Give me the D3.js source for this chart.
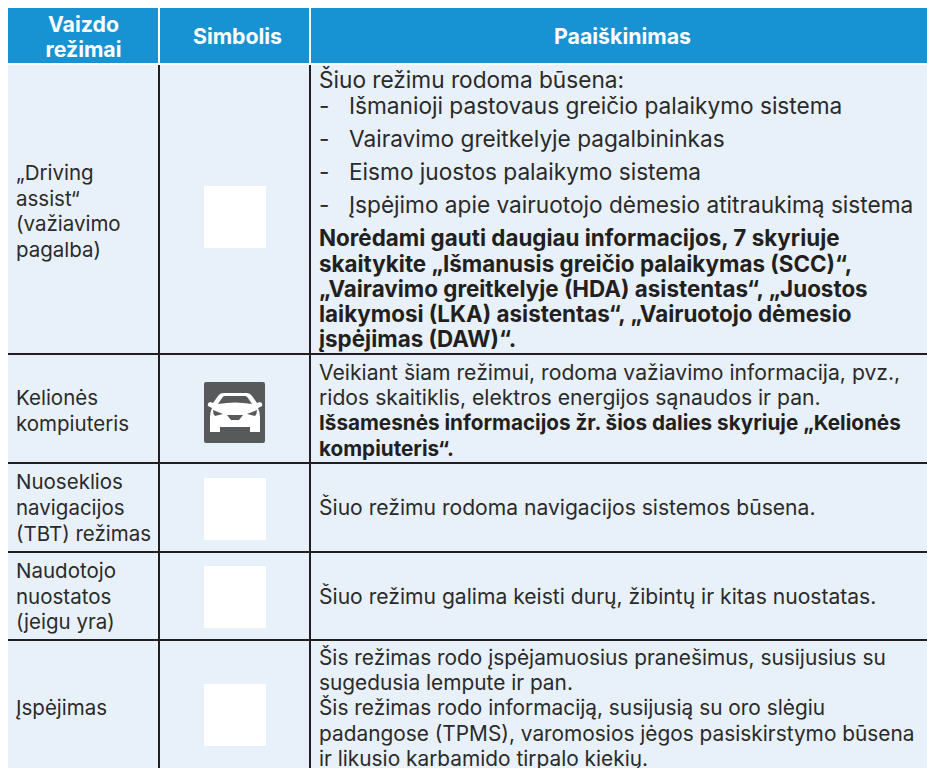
<!DOCTYPE html>
<html>
<head>
<meta charset="utf-8">
<script src="https://cdn.jsdelivr.net/npm/d3@7"></script>
<style>
  body { margin: 0; background: #fff; }
  text { font-family: "Inter", sans-serif; font-size: 20.5px; fill: #2b2a2b; }
  .head { font-size: 21.3px; font-weight: 700; fill: #fff; text-anchor: middle; }
  .bold { font-weight: 700; fill: #231f20; }
</style>
</head>
<body>
<svg id="chart" width="927" height="768"></svg>
<script>
var headers = [["Vaizdo", "režimai"], ["Simbolis"], ["Paaiškinimas"]];

var modes = [
  ["„Driving", "assist“", "(važiavimo", "pagalba)"],
  ["Kelionės", "kompiuteris"],
  ["Nuoseklios", "navigacijos", "(TBT) režimas"],
  ["Naudotojo", "nuostatos", "(jeigu yra)"],
  ["Įspėjimas"]
];

// t: n = plain, d = dash item, b = bold
var descriptions = [
  [["n", "Šiuo režimu rodoma būsena:"],
   ["d", "Išmanioji pastovaus greičio palaikymo sistema"],
   ["d", "Vairavimo greitkelyje pagalbininkas"],
   ["d", "Eismo juostos palaikymo sistema"],
   ["d", "Įspėjimo apie vairuotojo dėmesio atitraukimą sistema"],
   ["b", "Norėdami gauti daugiau informacijos, 7 skyriuje"],
   ["b", "skaitykite „Išmanusis greičio palaikymas (SCC)“,"],
   ["b", "„Vairavimo greitkelyje (HDA) asistentas“, „Juostos"],
   ["b", "laikymosi (LKA) asistentas“, „Vairuotojo dėmesio"],
   ["b", "įspėjimas (DAW)“."]],
  [["n", "Veikiant šiam režimui, rodoma važiavimo informacija, pvz.,"],
   ["n", "ridos skaitiklis, elektros energijos sąnaudos ir pan."],
   ["b", "Išsamesnės informacijos žr. šios dalies skyriuje „Kelionės"],
   ["b", "kompiuteris“."]],
  [["n", "Šiuo režimu rodoma navigacijos sistemos būsena."]],
  [["n", "Šiuo režimu galima keisti durų, žibintų ir kitas nuostatas."]],
  [["n", "Šis režimas rodo įspėjamuosius pranešimus, susijusius su"],
   ["n", "sugedusia lempute ir pan."],
   ["n", "Šis režimas rodo informaciją, susijusią su oro slėgiu"],
   ["n", "padangose (TPMS), varomosios jėgos pasiskirstymo būsena"],
   ["n", "ir likusio karbamido tirpalo kiekių."]]
];

var symbols = ["blank", "car", "blank", "blank", "blank"];

// page layout
var colEdges = [8, 159, 310, 927];
var headTop = 8, headBottom = 63, bodyTop = 65;
var rowEdges = [65, 354, 463, 552, 640, 768];
var headNudge = [0, 3, 4];
var modeBase = [[180, 206, 231, 257], [405, 431], [489, 515, 541], [578, 604, 629], [715]];
var descBase = [
  [88, 114, 147, 180, 213, 246, 272, 297, 322, 347],
  [380, 405, 430, 456],
  [515],
  [604],
  [665, 690, 715, 741, 766]
];
// the source page sets some rows a little larger than others
var descSize = [22.65, 21.15, 21.1, 21.1, 20.85];
var descBoldSize = [22.4, 20.7];
var symbolTop = [186, 382, 478, 566, 684];
var symbolSize = 62;

var svg = d3.select("#chart");

// column scale: index -> left edge
var x = d3.scaleOrdinal().domain([0, 1, 2, 3]).range(colEdges);
var cols = [0, 1, 2];

svg.append("rect").attr("x", 8).attr("y", bodyTop)
    .attr("width", 919).attr("height", 768 - bodyTop).attr("fill", "#e8f1f9");

svg.selectAll("rect.headcell").data(cols).enter().append("rect")
    .attr("class", "headcell")
    .attr("x", function(d) { return x(d) + (d ? 1 : 0); })
    .attr("y", headTop)
    .attr("width", function(d) { return x(d + 1) - x(d) - (d == 1 ? 2 : 1); })
    .attr("height", headBottom - headTop)
    .attr("fill", "#1793d4");

svg.selectAll("text.head").data(headers).enter().append("text")
    .attr("class", "head")
    .attr("x", function(d, i) { return (x(i) + x(i + 1)) / 2 + headNudge[i]; })
    .each(function(d) {
      var t = d3.select(this);
      var first = d.length > 1 ? 32 : 44;
      d.forEach(function(line, k) {
        t.append("tspan")
          .attr("x", t.attr("x"))
          .attr("y", first + k * 25)
          .text(line);
      });
    });

// row + column rules
svg.selectAll("line.v").data([1, 2]).enter().append("line")
    .attr("x1", function(d) { return x(d); }).attr("x2", function(d) { return x(d); })
    .attr("y1", bodyTop).attr("y2", 768)
    .attr("stroke", "#231f20").attr("stroke-width", 2);

svg.selectAll("line.h").data(rowEdges.slice(1, 5)).enter().append("line")
    .attr("x1", 8).attr("x2", 927)
    .attr("y1", function(d) { return d; }).attr("y2", function(d) { return d; })
    .attr("stroke", "#231f20").attr("stroke-width", 2);

// first column
modes.forEach(function(lines, r) {
  svg.append("g").selectAll("text").data(lines).enter().append("text")
      .attr("x", 16)
      .attr("y", function(d, i) { return modeBase[r][i]; })
      .text(function(d) { return d; });
});

// symbols
symbols.forEach(function(s, r) {
  var g = svg.append("g").attr("transform", "translate(204," + symbolTop[r] + ")");
  g.append("rect").attr("width", symbolSize - (s == "car" ? 1 : 0)).attr("height", symbolSize - (s == "car" ? 1 : 0))
      .attr("rx", s == "car" ? 2 : 0)
      .attr("fill", s == "car" ? "#58595b" : "#fff");
  if (s == "car") {
    g.append("path").attr("fill", "#fff").attr("fill-rule", "evenodd")
        .attr("d", "M19 11 H43 Q46 11 48 14 L53 21 L56 20 Q59 21 58 24 L54 26 Q56 30 56 35 V50 H46 V45 H16 V50 H6 V35 Q6 30 8 26 L4 24 Q3 21 6 20 L9 21 L14 14 Q16 11 19 11 Z"
          + " M21 14 H41 Q43 14 44 16 L48 22 Q31 19 14 22 L18 16 Q19 14 21 14 Z"
          + " M9 28 L19 32 L11 34 Q9 32 9 28 Z M53 28 L43 32 L51 34 Q53 32 53 28 Z"
          + " M23 33 H39 L35 38 H27 Z");
  }
});

// third column
descriptions.forEach(function(lines, r) {
  var g = svg.append("g");
  lines.forEach(function(line, i) {
    if (line[0] == "d") {
      g.append("text").attr("x", 319).attr("y", descBase[r][i])
          .style("font-size", descSize[r] + "px").text("-");
    }
    g.append("text")
        .attr("class", line[0] == "b" ? "bold" : null)
        .attr("x", line[0] == "d" ? 349 : 319)
        .attr("y", descBase[r][i])
        .style("font-size", (line[0] == "b" ? descBoldSize[r] : descSize[r]) + "px")
        .text(line[1]);
  });
});
</script>
</body>
</html>
